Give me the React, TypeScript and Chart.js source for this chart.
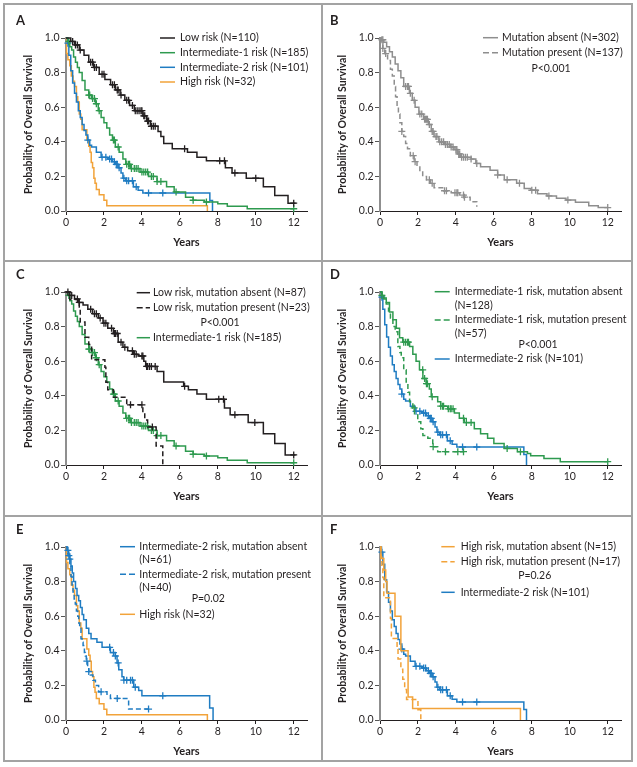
import React, { useEffect, useRef } from "react";
import { Chart, registerables } from "chart.js";
Chart.register(...registerables);

// ---------- ticks ----------
const X_TICKS = [0, 2, 4, 6, 8, 10, 12];
const Y_TICKS = [0, 0.2, 0.4, 0.6, 0.8, 1.0];

// ---------- Kaplan-Meier curves (time in years, survival) ----------
// Low risk (N=110)
const LOW_T = [0, 0.25, 0.45, 0.7, 0.95, 1.2, 1.45, 1.75, 2.05, 2.35, 2.6, 2.85, 3.1, 3.35, 3.6, 4.05, 4.25, 4.45, 4.85, 5.0, 5.15, 5.6, 6.4, 6.9, 7.4, 8.4, 8.75, 9.5, 10.4, 11.0, 11.7, 12.1];
const LOW_S = [1.0, 0.98, 0.96, 0.93, 0.9, 0.86, 0.83, 0.79, 0.76, 0.73, 0.7, 0.67, 0.64, 0.61, 0.58, 0.55, 0.52, 0.49, 0.46, 0.43, 0.39, 0.36, 0.34, 0.31, 0.29, 0.25, 0.22, 0.19, 0.14, 0.09, 0.045, 0.045];
const LOW_C = [0.35, 0.5, 0.6, 0.75, 1.3, 1.4, 1.5, 1.6, 1.9, 2.0, 2.45, 2.55, 2.7, 2.75, 2.9, 3.2, 3.3, 3.5, 3.65, 3.75, 3.85, 3.95, 4.0, 4.1, 4.15, 4.3, 4.35, 4.5, 4.6, 4.7, 6.25, 8.1, 8.35, 8.9, 10.0, 12.0];

// Intermediate-1 risk (N=185)
const INT1_T = [0, 0.1, 0.2, 0.3, 0.4, 0.5, 0.6, 0.7, 0.85, 1.0, 1.2, 1.35, 1.55, 1.7, 1.85, 2.0, 2.15, 2.3, 2.45, 2.6, 2.8, 3.0, 3.15, 3.4, 3.9, 4.35, 4.8, 5.3, 5.7, 6.3, 6.7, 7.3, 8.0, 8.5, 9.55, 12.0];
const INT1_S = [1.0, 0.98, 0.95, 0.93, 0.89, 0.86, 0.83, 0.8, 0.755, 0.7, 0.67, 0.65, 0.62, 0.58, 0.54, 0.51, 0.48, 0.44, 0.41, 0.37, 0.34, 0.3, 0.27, 0.245, 0.225, 0.2, 0.17, 0.14, 0.11, 0.08, 0.062, 0.052, 0.042, 0.027, 0.013, 0.013];
const INT1_C = [0.15, 1.2, 1.25, 1.4, 1.5, 1.6, 1.75, 2.5, 2.55, 2.75, 3.2, 3.3, 3.35, 3.45, 3.6, 3.7, 3.8, 4.0, 4.1, 4.2, 4.3, 4.5, 4.6, 4.8, 5.0, 5.8, 6.7, 7.4, 12.0];

// Intermediate-2 risk (N=101)
const INT2_T = [0, 0.08, 0.15, 0.25, 0.35, 0.45, 0.55, 0.65, 0.75, 0.85, 0.95, 1.05, 1.15, 1.25, 1.35, 1.6, 1.85, 2.2, 2.45, 2.6, 2.75, 2.9, 3.0, 3.15, 3.55, 3.8, 4.05, 7.58, 7.72];
const INT2_S = [1.0, 0.97, 0.9, 0.81, 0.74, 0.68, 0.63, 0.58, 0.54, 0.5, 0.465, 0.44, 0.41, 0.38, 0.37, 0.34, 0.31, 0.3, 0.285, 0.27, 0.25, 0.22, 0.19, 0.175, 0.14, 0.12, 0.104, 0.06, 0];
const INT2_C = [0.1, 1.15, 1.9, 2.1, 2.3, 2.4, 2.55, 2.65, 2.7, 2.8, 3.05, 3.2, 3.3, 3.5, 3.7, 4.35, 5.1];

// High risk (N=32)
const HIGH_T = [0, 0.03, 0.1, 0.2, 0.28, 0.37, 0.45, 0.55, 0.62, 0.7, 0.78, 0.85, 1.1, 1.2, 1.27, 1.33, 1.4, 1.47, 1.53, 1.6, 1.75, 2.0, 2.15, 7.45];
const HIGH_S = [1.0, 0.91, 0.875, 0.84, 0.78, 0.75, 0.72, 0.66, 0.63, 0.56, 0.53, 0.47, 0.41, 0.375, 0.34, 0.28, 0.25, 0.19, 0.16, 0.125, 0.094, 0.0625, 0.031, 0];
const HIGH_C: number[] = [];

// Mutation absent (N=302)
const ABS_T = [0, 0.07, 0.2, 0.35, 0.5, 0.65, 0.8, 0.95, 1.1, 1.25, 1.55, 1.7, 1.85, 2.05, 2.3, 2.55, 2.7, 2.85, 3.1, 3.4, 3.7, 3.9, 4.1, 4.25, 4.8, 5.05, 5.3, 5.8, 6.2, 6.55, 7.2, 7.6, 7.95, 8.3, 8.8, 9.3, 9.8, 10.3, 11.0, 11.5, 12.0];
const ABS_S = [1.0, 0.99, 0.975, 0.95, 0.92, 0.89, 0.85, 0.81, 0.77, 0.72, 0.68, 0.64, 0.6, 0.56, 0.53, 0.5, 0.46, 0.43, 0.4, 0.385, 0.37, 0.355, 0.33, 0.31, 0.3, 0.275, 0.256, 0.236, 0.208, 0.18, 0.16, 0.13, 0.12, 0.1, 0.087, 0.073, 0.063, 0.05, 0.03, 0.02, 0.02];
const ABS_C = [0.1, 0.15, 1.35, 1.45, 1.5, 1.6, 1.8, 2.1, 2.2, 2.35, 2.4, 2.45, 2.5, 2.6, 2.75, 2.8, 2.95, 3.0, 3.15, 3.25, 3.35, 3.45, 3.55, 3.65, 3.75, 3.85, 4.0, 4.05, 4.15, 4.2, 4.3, 4.4, 4.5, 4.6, 4.8, 5.1, 6.2, 6.7, 7.35, 8.0, 8.2, 8.9, 9.9, 12.0];

// Mutation present (N=137)
const PRES_T = [0, 0.05, 0.15, 0.25, 0.4, 0.55, 0.65, 0.75, 0.82, 0.9, 0.97, 1.05, 1.15, 1.25, 1.35, 1.45, 1.6, 1.8, 1.95, 2.1, 2.25, 2.45, 2.65, 2.85, 3.3, 3.75, 4.2, 4.45, 4.75, 5.1];
const PRES_S = [1.0, 0.97, 0.94, 0.91, 0.87, 0.82, 0.78, 0.72, 0.66, 0.6, 0.56, 0.51, 0.46, 0.43, 0.39, 0.36, 0.32, 0.285, 0.26, 0.23, 0.2, 0.18, 0.16, 0.135, 0.117, 0.106, 0.092, 0.08, 0.054, 0.025];
const PRES_C = [0.15, 0.3, 1.15, 1.75, 1.85, 2.6, 2.75, 3.4, 3.5, 3.95, 4.05, 4.1, 4.4, 4.45];

// Low risk, mutation absent (N=87)
const LOWA_T = [0, 0.2, 0.45, 0.65, 0.9, 1.15, 1.4, 1.7, 1.95, 2.2, 2.5, 2.75, 3.0, 3.25, 3.55, 3.8, 4.1, 4.2, 4.8, 5.15, 6.2, 6.45, 6.9, 7.4, 8.35, 8.65, 9.6, 10.4, 11.0, 11.55, 12.1];
const LOWA_S = [1.0, 0.98, 0.96, 0.94, 0.925, 0.9, 0.875, 0.85, 0.82, 0.79, 0.76, 0.71, 0.68, 0.66, 0.64, 0.63, 0.6, 0.57, 0.54, 0.48, 0.455, 0.435, 0.41, 0.38, 0.33, 0.29, 0.245, 0.18, 0.125, 0.058, 0.058];
const LOWA_C = [0.3, 0.6, 0.7, 1.3, 1.5, 1.6, 1.8, 2.0, 2.1, 2.4, 2.55, 2.6, 2.7, 2.9, 3.1, 3.5, 3.6, 3.7, 4.0, 4.05, 4.25, 4.3, 4.4, 4.5, 4.7, 6.25, 8.05, 8.3, 8.9, 9.95, 12.0];

// Low risk, mutation present (N=23)
const LOWP_T = [0, 0.2, 0.7, 0.75, 1.0, 1.2, 1.35, 2.05, 2.1, 2.2, 2.5, 3.2, 4.05, 4.15, 4.3, 4.75, 5.1];
const LOWP_S = [1.0, 0.957, 0.913, 0.826, 0.739, 0.696, 0.609, 0.565, 0.478, 0.435, 0.391, 0.348, 0.3, 0.26, 0.22, 0.11, 0];
const LOWP_C = [0.1, 3.4, 4.0, 4.55];

// Intermediate-1 risk, mutation absent (N=128)
const I1A_T = [0, 0.1, 0.2, 0.33, 0.5, 0.68, 0.86, 1.03, 1.2, 1.56, 1.73, 1.9, 2.08, 2.26, 2.43, 2.6, 2.7, 3.04, 3.2, 3.57, 3.92, 4.18, 4.44, 4.97, 5.3, 5.67, 6.0, 6.54, 7.24, 7.77, 7.94, 8.64, 9.5, 12.0];
const I1A_S = [1.0, 0.98, 0.96, 0.94, 0.885, 0.84, 0.79, 0.735, 0.71, 0.685, 0.64, 0.6, 0.55, 0.5, 0.47, 0.44, 0.395, 0.365, 0.34, 0.325, 0.3, 0.27, 0.245, 0.21, 0.18, 0.155, 0.125, 0.096, 0.077, 0.067, 0.054, 0.038, 0.019, 0.019];
const I1A_C = [0.1, 1.25, 1.35, 1.45, 1.5, 2.25, 2.35, 2.45, 2.5, 2.75, 3.2, 3.3, 3.35, 3.6, 3.7, 3.75, 3.85, 4.4, 4.55, 4.8, 6.7, 7.4, 12.0];

// Intermediate-1 risk, mutation present (N=57)
const I1P_T = [0, 0.1, 0.2, 0.33, 0.45, 0.55, 0.68, 0.8, 0.94, 1.05, 1.12, 1.25, 1.38, 1.47, 1.56, 1.73, 1.82, 1.99, 2.15, 2.26, 2.52, 2.78, 3.04, 4.44];
const I1P_S = [1.0, 0.98, 0.965, 0.93, 0.89, 0.85, 0.8, 0.77, 0.685, 0.65, 0.62, 0.55, 0.48, 0.42, 0.365, 0.33, 0.29, 0.25, 0.21, 0.17, 0.155, 0.106, 0.077, 0.077];
const I1P_C = [1.8, 2.8, 3.45, 4.1, 4.4];

// Intermediate-2 risk, mutation absent (N=61)
const I2A_T = [0, 0.08, 0.14, 0.2, 0.26, 0.33, 0.4, 0.5, 0.58, 0.67, 0.76, 0.85, 0.93, 1.07, 1.2, 1.32, 1.63, 1.9, 2.34, 2.6, 2.69, 2.78, 2.95, 3.04, 3.57, 3.83, 4.0, 7.57, 7.75];
const I2A_S = [1.0, 0.98, 0.96, 0.93, 0.89, 0.85, 0.8, 0.76, 0.72, 0.69, 0.65, 0.61, 0.58, 0.53, 0.5, 0.47, 0.45, 0.42, 0.39, 0.37, 0.33, 0.29, 0.25, 0.23, 0.19, 0.17, 0.14, 0.07, 0];
const I2A_C = [0.1, 0.2, 2.3, 2.5, 2.6, 2.75, 3.05, 3.2, 3.4, 3.5, 3.65, 5.1];

// Intermediate-2 risk, mutation present (N=40)
const I2P_T = [0, 0.05, 0.1, 0.2, 0.26, 0.32, 0.37, 0.43, 0.49, 0.55, 0.62, 0.67, 0.72, 0.79, 0.85, 0.9, 0.97, 1.02, 1.07, 1.14, 1.2, 1.28, 1.42, 1.55, 1.72, 2.16, 2.34, 3.3, 4.36];
const I2P_S = [1.0, 0.975, 0.95, 0.9, 0.83, 0.78, 0.74, 0.7, 0.67, 0.63, 0.6, 0.56, 0.53, 0.47, 0.45, 0.43, 0.39, 0.37, 0.34, 0.3, 0.28, 0.26, 0.23, 0.2, 0.163, 0.144, 0.125, 0.063, 0.063];
const I2P_C = [0.15, 1.1, 1.2, 1.85, 2.7, 4.35];

// High risk, mutation absent (N=15)
const HA_T = [0, 0.05, 0.2, 0.3, 0.37, 0.79, 1.1, 1.48, 1.72, 7.4];
const HA_S = [1.0, 0.933, 0.867, 0.8, 0.733, 0.6, 0.4, 0.133, 0.067, 0];
const HA_C: number[] = [];

// High risk, mutation present (N=17)
const HP_T = [0, 0.05, 0.1, 0.15, 0.2, 0.55, 0.6, 0.9, 0.95, 1.1, 1.2, 1.3, 1.4, 2.0, 2.15];
const HP_S = [1.0, 0.941, 0.882, 0.824, 0.706, 0.588, 0.471, 0.412, 0.353, 0.294, 0.235, 0.176, 0.118, 0.059, 0];
const HP_C: number[] = [];

// ---------- labels ----------
const LETTERS = ["A", "B", "C", "D", "E", "F"];
const LEG_A = ["Low risk (N=110)", "Intermediate-1 risk (N=185)", "Intermediate-2 risk (N=101)", "High risk (N=32)"];
const LEG_B = ["Mutation absent (N=302)", "Mutation present (N=137)", "P<0.001"];
const LEG_C = ["Low risk, mutation absent (N=87)", "Low risk, mutation present (N=23)", "P<0.001", "Intermediate-1 risk (N=185)"];
const LEG_D = ["Intermediate-1 risk, mutation absent", "(N=128)", "Intermediate-1 risk, mutation present", "(N=57)", "P<0.001", "Intermediate-2 risk (N=101)"];
const LEG_E = ["Intermediate-2 risk, mutation absent", "(N=61)", "Intermediate-2 risk, mutation present", "(N=40)", "P=0.02", "High risk (N=32)"];
const LEG_F = ["High risk, mutation absent (N=15)", "High risk, mutation present (N=17)", "P=0.26", "Intermediate-2 risk (N=101)"];

// ---------- styles ----------
const FONT = "Lato, 'DejaVu Sans', sans-serif";
const TEXT = "#231f20";
const BLACK = "#231f20";
const GREEN = "#2e9a4f";
const BLUE = "#1f7cc2";
const ORANGE = "#f2a33a";
const GRAY = "#8e8e8e";

type Ser = { t: number[]; s: number[]; c: number[]; color: string; dash: boolean };
type Row = { text: string; y: number; color?: string; dash?: boolean; cx?: number };
type Panel = { left: number; top: number; letter: string; series: Ser[]; lx0: number; lx1: number; tx: number; rows: Row[] };

function survAt(t: number[], s: number[], x: number) {
  let v = s[0];
  for (let i = 0; i < t.length; i++) if (t[i] <= x) v = s[i];
  return v;
}

const PANELS: Panel[] = [
  {
    left: 8, top: 8, letter: LETTERS[0],
    series: [
      { t: LOW_T, s: LOW_S, c: LOW_C, color: BLACK, dash: false },
      { t: INT1_T, s: INT1_S, c: INT1_C, color: GREEN, dash: false },
      { t: INT2_T, s: INT2_S, c: INT2_C, color: BLUE, dash: false },
      { t: HIGH_T, s: HIGH_S, c: HIGH_C, color: ORANGE, dash: false },
    ],
    lx0: 152, lx1: 167, tx: 172,
    rows: [
      { text: LEG_A[0], y: 30, color: BLACK },
      { text: LEG_A[1], y: 44.7, color: GREEN },
      { text: LEG_A[2], y: 59.3, color: BLUE },
      { text: LEG_A[3], y: 74, color: ORANGE },
    ],
  },
  {
    left: 322, top: 8, letter: LETTERS[1],
    series: [
      { t: ABS_T, s: ABS_S, c: ABS_C, color: GRAY, dash: false },
      { t: PRES_T, s: PRES_S, c: PRES_C, color: GRAY, dash: true },
    ],
    lx0: 161, lx1: 176, tx: 180,
    rows: [
      { text: LEG_B[0], y: 29.7, color: GRAY },
      { text: LEG_B[1], y: 44.7, color: GRAY, dash: true },
      { text: LEG_B[2], y: 60.3, cx: 229 },
    ],
  },
  {
    left: 8, top: 262, letter: LETTERS[2],
    series: [
      { t: LOWA_T, s: LOWA_S, c: LOWA_C, color: BLACK, dash: false },
      { t: LOWP_T, s: LOWP_S, c: LOWP_C, color: BLACK, dash: true },
      { t: INT1_T, s: INT1_S, c: INT1_C, color: GREEN, dash: false },
    ],
    lx0: 128.7, lx1: 142, tx: 145,
    rows: [
      { text: LEG_C[0], y: 30.7, color: BLACK },
      { text: LEG_C[1], y: 45.7, color: BLACK, dash: true },
      { text: LEG_C[2], y: 60.7, cx: 212 },
      { text: LEG_C[3], y: 75.7, color: GREEN },
    ],
  },
  {
    left: 322, top: 262, letter: LETTERS[3],
    series: [
      { t: I1A_T, s: I1A_S, c: I1A_C, color: GREEN, dash: false },
      { t: I1P_T, s: I1P_S, c: I1P_C, color: GREEN, dash: true },
      { t: INT2_T, s: INT2_S, c: INT2_C, color: BLUE, dash: false },
    ],
    lx0: 112.7, lx1: 127.7, tx: 132.7,
    rows: [
      { text: LEG_D[0], y: 29.7, color: GREEN },
      { text: LEG_D[1], y: 44 },
      { text: LEG_D[2], y: 58, color: GREEN, dash: true },
      { text: LEG_D[3], y: 72 },
      { text: LEG_D[4], y: 82.3, cx: 216 },
      { text: LEG_D[5], y: 97, color: BLUE },
    ],
  },
  {
    left: 8, top: 517, letter: LETTERS[4],
    series: [
      { t: I2A_T, s: I2A_S, c: I2A_C, color: BLUE, dash: false },
      { t: I2P_T, s: I2P_S, c: I2P_C, color: BLUE, dash: true },
      { t: HIGH_T, s: HIGH_S, c: HIGH_C, color: ORANGE, dash: false },
    ],
    lx0: 112, lx1: 127, tx: 131.3,
    rows: [
      { text: LEG_E[0], y: 29.7, color: BLUE },
      { text: LEG_E[1], y: 43 },
      { text: LEG_E[2], y: 57.3, color: BLUE, dash: true },
      { text: LEG_E[3], y: 70.7 },
      { text: LEG_E[4], y: 82, cx: 200.3 },
      { text: LEG_E[5], y: 97.3, color: ORANGE },
    ],
  },
  {
    left: 322, top: 517, letter: LETTERS[5],
    series: [
      { t: HA_T, s: HA_S, c: HA_C, color: ORANGE, dash: false },
      { t: HP_T, s: HP_S, c: HP_C, color: ORANGE, dash: true },
      { t: INT2_T, s: INT2_S, c: INT2_C, color: BLUE, dash: false },
    ],
    lx0: 119.3, lx1: 132.7, tx: 138.7,
    rows: [
      { text: LEG_F[0], y: 29.7, color: ORANGE },
      { text: LEG_F[1], y: 44.7, color: ORANGE, dash: true },
      { text: LEG_F[2], y: 59, cx: 212.7 },
      { text: LEG_F[3], y: 75.3, color: BLUE },
    ],
  },
];

const CW = 310;
const CH = 250;

const overlayPlugin = {
  id: "overlay",
  afterDraw(chart: any, _args: any, opts: any) {
    const p: Panel = opts.panel;
    if (!p) return;
    const ctx = chart.ctx;
    ctx.save();
    ctx.fillStyle = TEXT;
    ctx.textBaseline = "middle";
    ctx.textAlign = "left";
    ctx.font = `bold 13px ${FONT}`;
    ctx.fillText(p.letter, 8, 12.5);
    ctx.font = `10.5px ${FONT}`;
    for (const r of p.rows) {
      if (r.cx !== undefined) {
        ctx.textAlign = "center";
        ctx.fillText(r.text, r.cx, r.y);
      } else {
        ctx.textAlign = "left";
        ctx.fillText(r.text, p.tx, r.y);
      }
      if (r.color) {
        ctx.strokeStyle = r.color;
        ctx.lineWidth = 1.5;
        ctx.setLineDash(r.dash ? [6, 3] : []);
        ctx.beginPath();
        ctx.moveTo(p.lx0, r.y);
        ctx.lineTo(p.lx1, r.y);
        ctx.stroke();
      }
    }
    ctx.restore();
  },
};

function KMPanel({ panel }: { panel: Panel }) {
  const ref = useRef<HTMLCanvasElement | null>(null);
  useEffect(() => {
    if (!ref.current) return;
    const datasets: any[] = [];
    panel.series.forEach((se) => {
      datasets.push({
        data: se.t.map((t, i) => ({ x: t, y: se.s[i] })),
        borderColor: se.color,
        borderWidth: 1.5,
        borderDash: se.dash ? [5, 3] : [],
        stepped: "before",
        pointRadius: 0,
        fill: false,
        clip: false,
      });
      datasets.push({
        data: se.c.map((c) => ({ x: c, y: survAt(se.t, se.s, c) })),
        showLine: false,
        pointStyle: "cross",
        pointRadius: 3.5,
        pointBorderWidth: 1.3,
        pointBorderColor: se.color,
        borderColor: se.color,
        clip: false,
      });
    });
    const chart = new Chart(ref.current, {
      type: "line",
      data: { datasets },
      plugins: [overlayPlugin as any],
      options: {
        animation: false,
        responsive: false,
        maintainAspectRatio: false,
        events: [],
        layout: { padding: { left: 0, right: 11, top: 30, bottom: 0 } },
        plugins: {
          legend: { display: false },
          tooltip: { enabled: false },
          overlay: { panel },
        } as any,
        scales: {
          x: {
            type: "linear",
            min: 0,
            max: 12.7,
            afterBuildTicks: (s: any) => {
              s.ticks = X_TICKS.map((v) => ({ value: v }));
            },
            afterFit: (s: any) => {
              s.height = 47;
            },
            grid: { display: true, drawOnChartArea: false, drawTicks: true, tickLength: 4, color: TEXT, lineWidth: 1 },
            border: { display: true, color: TEXT, width: 1 },
            ticks: {
              padding: 1,
              color: TEXT,
              maxRotation: 0,
              autoSkip: false,
              font: { family: FONT, size: 10.5 },
              callback: (v: any) => String(v),
            },
            title: {
              display: true,
              text: "Years",
              color: TEXT,
              font: { family: FONT, size: 11, weight: "bold" },
              padding: { top: 0, bottom: 9 },
            },
          },
          y: {
            type: "linear",
            min: 0,
            max: 1,
            afterBuildTicks: (s: any) => {
              s.ticks = Y_TICKS.map((v) => ({ value: v }));
            },
            afterFit: (s: any) => {
              s.width = 58;
            },
            grid: { display: true, drawOnChartArea: false, drawTicks: true, tickLength: 5, color: "#555", lineWidth: 1 },
            border: { display: true, color: "#8f8f8f", width: 2 },
            ticks: {
              padding: 1.5,
              color: TEXT,
              font: { family: FONT, size: 10.5 },
              callback: (v: any) => Number(v).toFixed(1),
            },
            title: {
              display: true,
              text: "Probability of Overall Survival",
              color: TEXT,
              font: { family: FONT, size: 10.5, weight: "bold" },
              padding: { top: 14.5, bottom: 0 },
            },
          },
        },
      } as any,
    });
    return () => chart.destroy();
  }, [panel]);
  return (
    <canvas
      ref={ref}
      width={CW}
      height={CH}
      style={{ position: "absolute", left: panel.left, top: panel.top, width: CW, height: CH, display: "block" }}
    />
  );
}

const BORDER = "#a3a3a3";

export default function App() {
  const line = (l: number, t: number, w: number, h: number, k: string) => (
    <div key={k} style={{ position: "absolute", left: l, top: t, width: w, height: h, background: BORDER, zIndex: 2 }} />
  );
  return (
    <div style={{ position: "absolute", left: 0, top: 0, width: 637, height: 767, background: "#fff", overflow: "hidden" }}>
      {PANELS.map((p, i) => (
        <KMPanel key={i} panel={p} />
      ))}
      {line(3, 3, 630, 2, "t")}
      {line(3, 760, 630, 2, "b")}
      {line(3, 3, 2, 759, "l")}
      {line(631, 3, 2, 759, "r")}
      {line(321, 3, 2, 759, "v")}
      {line(3, 260, 630, 2, "h1")}
      {line(3, 515, 630, 2, "h2")}
    </div>
  );
}
